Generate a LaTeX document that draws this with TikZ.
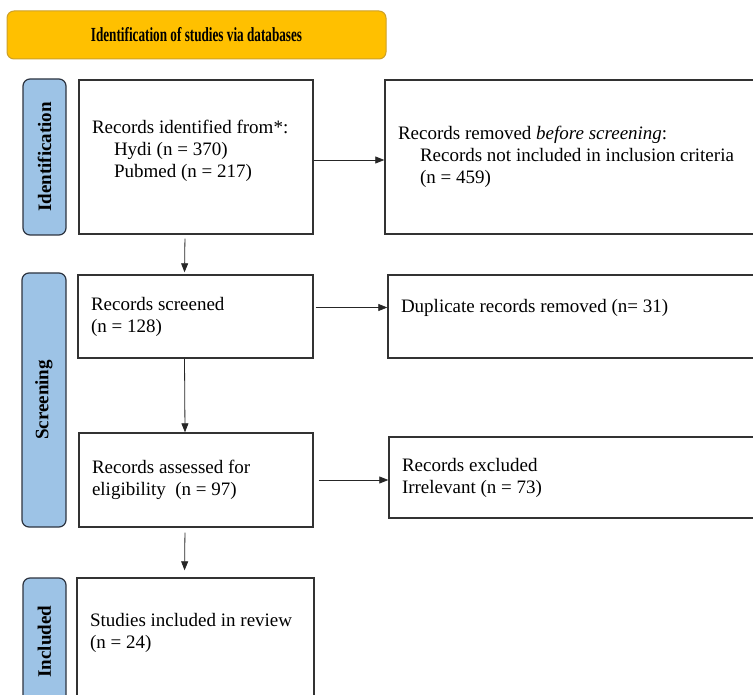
\documentclass[tikz,border=0pt]{standalone}
\usepackage{fontspec}
\setmainfont{Liberation Serif}
\usepackage{graphicx}
\usetikzlibrary{arrows.meta}

\definecolor{titlegold}{RGB}{255,192,0}
\definecolor{titleedge}{RGB}{205,160,40}
\definecolor{tabblue}{RGB}{157,195,230}
\definecolor{tabedge}{RGB}{45,52,64}
\definecolor{boxedge}{RGB}{50,50,50}

\begin{document}
\begin{tikzpicture}[x=1pt,y=-1pt,
  box/.style={draw=boxedge,line width=1.4pt,rectangle,align=flush left,
    inner xsep=13pt,font=\fontsize{19}{22}\selectfont},
  tab/.style={draw=tabedge,fill=tabblue,line width=1.2pt,rounded corners=7pt,
    rotate=90,font=\fontsize{19}{22}\selectfont\bfseries},
  flow/.style={draw=black!85,line width=0.8pt,-{Triangle[length=9pt,width=7pt]}}]
\useasboundingbox (0,0) rectangle (753,695);
\fill[white] (0,0) rectangle (753,695);
\clip (0,0) rectangle (753,695);

\node[draw=titleedge,fill=titlegold,line width=1pt,rounded corners=7pt,
  minimum width=379pt,minimum height=48pt,font=\fontsize{20}{22}\selectfont] (title) at (196.5,35)
  {\scalebox{0.66}[1]{\bfseries Identification of studies via databases}};

% identification
\node[tab,minimum width=156pt,minimum height=43pt] (tabid) at (44.5,157) {Identification};
\node[box,minimum width=234pt,minimum height=154pt,text width=208pt] (ident) at (196,157)
  {Records identified from*:\\
   \hspace*{22pt}Hydi (n = 370)\\
   \hspace*{22pt}Pubmed (n = 217)\\[-6pt]\mbox{}};
\node[box,minimum width=380pt,minimum height=154pt,text width=354pt] (removed) at (575,157)
  {Records removed \emph{before screening}:\\
   \hspace*{22pt}Records not included in inclusion criteria\\
   \hspace*{22pt}(n = 459)};
\path[flow] ([yshift=-3pt]ident.east) -- ([yshift=-3pt]removed.west);

% screening
\node[tab,minimum width=254pt,minimum height=44pt] (tabscr) at (44,400) {Screening};
\node[box,minimum width=235pt,minimum height=83pt,text width=209pt] (scr) at (195.5,316.5)
  {Records screened\\(n = 128)};
\node[box,minimum width=377pt,minimum height=83pt,text width=351pt] (dup) at (576.5,316.5)
  {Duplicate records removed (n= 31)\\\mbox{}};
\node[box,minimum width=234pt,minimum height=94pt,text width=208pt] (ass) at (196,480)
  {Records assessed for\\eligibility \ (n = 97)};
\node[box,minimum width=376pt,minimum height=81pt,text width=350pt] (excl) at (577,477.5)
  {Records excluded\\Irrelevant (n = 73)};
\path[flow,shorten <=4pt,shorten >=2pt] ([xshift=-11pt]ident.south) -- ([xshift=-11pt]scr.north);
\path[flow,shorten <=2pt] ([yshift=9pt]scr.east) -- ([yshift=9pt]dup.west);
\path[flow] ([xshift=-11pt]scr.south) -- ([xshift=-11pt]ass.north);
\path[flow,shorten <=5pt] (ass.east) -- (ass.east -| excl.west);

% included
\node[tab,minimum width=127pt,minimum height=43pt] (tabinc) at (44.5,641.5) {Included};
\node[box,minimum width=237pt,minimum height=127pt,text width=211pt] (incl) at (195.5,641.5)
  {Studies included in review\\(n = 24)\\\mbox{}};
\path[flow,shorten <=5pt,shorten >=7pt] ([xshift=-11pt]ass.south) -- ([xshift=-11pt]incl.north);
\end{tikzpicture}
\end{document}
